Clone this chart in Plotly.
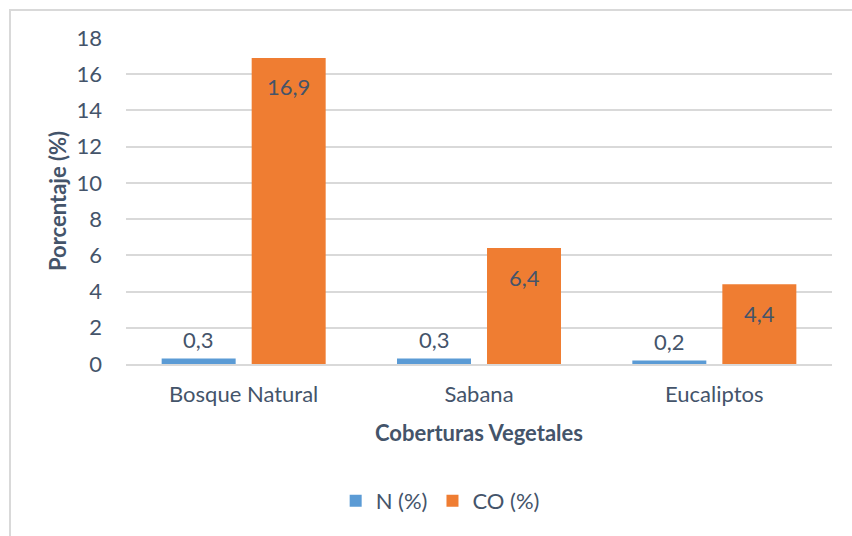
import plotly.graph_objects as go

categories = ["Bosque Natural", "Sabana", "Eucaliptos"]
n_values = [0.3, 0.3, 0.2]
co_values = [16.9, 6.4, 4.4]
n_labels = ["0,3", "0,3", "0,2"]
co_labels = ["16,9", "6,4", "4,4"]
y_ticks = [0, 2, 4, 6, 8, 10, 12, 14, 16, 18]

W, H = 852, 536
L, R, T, B = 126, 20, 38, 172
PW, PH = W - L - R, H - T - B
FONT = "Lato, 'Open Sans', sans-serif"
TXT = "#44546A"
FS = 22

fig = go.Figure()
fig.add_trace(go.Bar(
    x=categories, y=n_values, name="N (%)",
    marker=dict(color="#5B9BD5", line=dict(width=0)),
))
fig.add_trace(go.Bar(
    x=categories, y=co_values, name="CO (%)",
    marker=dict(color="#EF7D32", line=dict(width=0)),
))

# data labels
for c, v, t in zip(categories, n_values, n_labels):
    fig.add_annotation(x=c, y=v, xref="x", yref="y", text=t, showarrow=False,
                       xshift=-45, yshift=19, yanchor="middle",
                       font=dict(family=FONT, size=FS, color=TXT))
for c, v, t in zip(categories, co_values, co_labels):
    fig.add_annotation(x=c, y=v, xref="x", yref="y", text=t, showarrow=False,
                       xshift=45, yshift=-29, yanchor="middle",
                       font=dict(family=FONT, size=FS, color=TXT))

fig.update_layout(
    width=W, height=H,
    margin=dict(l=L, r=R, t=T, b=B, pad=0, autoexpand=False),
    paper_bgcolor="white", plot_bgcolor="white",
    barmode="group", bargap=0.235, bargroupgap=0.178,
    font=dict(family=FONT, color=TXT, size=FS),
    xaxis=dict(
        showgrid=False, showline=True, linecolor="#D9D9D9", linewidth=2,
        ticks="", ticklabelstandoff=10, tickfont=dict(size=FS, color=TXT),
        title=dict(text="<b>Coberturas Vegetales</b>", font=dict(size=FS, color=TXT), standoff=19),
    ),
    yaxis=dict(
        range=[0, 18], tickvals=y_ticks, ticktext=[str(v) for v in y_ticks],
        showgrid=True, gridcolor="#D9D9D9", gridwidth=2, zeroline=False,
        ticks="", ticklabelstandoff=23, tickfont=dict(size=FS, color=TXT),
        title=dict(text="<b>Porcentaje (%)</b>", font=dict(size=FS, color=TXT), standoff=3),
    ),
    legend=dict(
        orientation="h", x=0.445, xanchor="center", y=-0.42, yanchor="middle",
        font=dict(size=FS, color=TXT), itemwidth=30, traceorder="normal",
    ),
    showlegend=True,
)

# chart border (extends past the right and bottom edges of the picture)
fig.add_shape(type="rect", xref="paper", yref="paper", layer="above",
              x0=(10 - L) / PW, x1=(W + 20 - L) / PW,
              y0=-(B + 20) / PH, y1=1 + (T - 10) / PH,
              line=dict(color="#D9D9D9", width=2), fillcolor="rgba(0,0,0,0)")

fig.write_html("out.html", config={"displayModeBar": False},
               post_script="document.body.style.margin='0';document.body.style.padding='0';")
